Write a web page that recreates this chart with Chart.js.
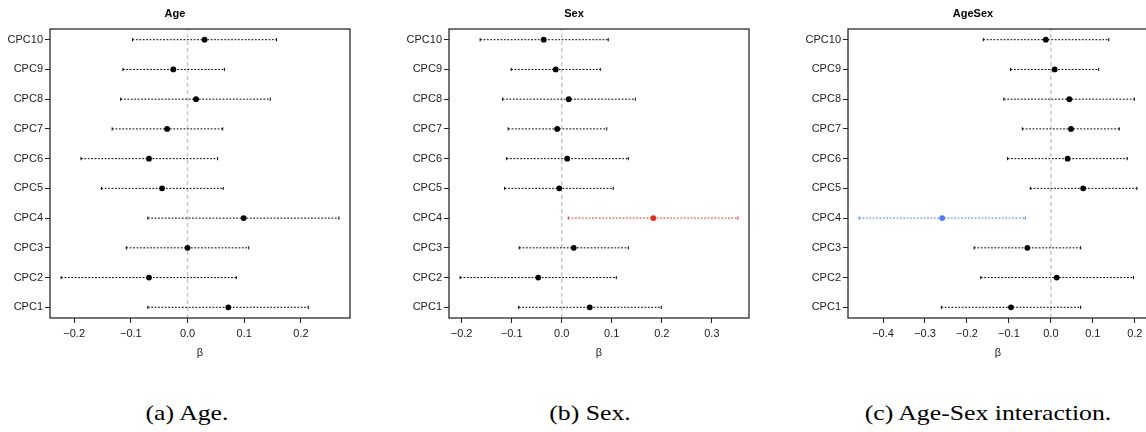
<!DOCTYPE html>
<html>
<head>
<meta charset="utf-8">
<script src="https://cdn.jsdelivr.net/npm/chart.js@4/dist/chart.umd.min.js"></script>
<style>
  html, body { margin: 0; padding: 0; background: #fff; }
  #fig { position: relative; width: 1146px; height: 432px; overflow: hidden; background: #fff; }
  .panel { position: absolute; top: 0; width: 360px; height: 370px; }
  .caption { position: absolute; top: 402px; font-family: "Liberation Serif", serif; font-size: 22px;
             line-height: 1; transform: translateX(-50%) scaleX(1.17); transform-origin: center;
             white-space: nowrap; color: #000; }
</style>
</head>
<body>
<div id="fig">
  <div class="panel" style="left:0px"><canvas id="cAge" width="360" height="370"></canvas></div>
  <div class="panel" style="left:399px"><canvas id="cSex" width="360" height="370"></canvas></div>
  <div class="panel" style="left:798px"><canvas id="cAgeSex" width="360" height="370"></canvas></div>
  <div class="caption" style="left:187px">(a) Age.</div>
  <div class="caption" style="left:590px">(b) Sex.</div>
  <div class="caption" style="left:988px">(c) Age-Sex interaction.</div>
</div>
<script>
// Components, bottom to top (CPC1 .. CPC10)
const categories = ['CPC1', 'CPC2', 'CPC3', 'CPC4', 'CPC5', 'CPC6', 'CPC7', 'CPC8', 'CPC9', 'CPC10'];

// Age effect: estimate and interval bounds
const ageEst = [0.072, -0.068, 0.000, 0.099, -0.045, -0.068, -0.036, 0.015, -0.025, 0.030];
const ageLo  = [-0.070, -0.223, -0.108, -0.070, -0.152, -0.188, -0.133, -0.118, -0.114, -0.097];
const ageHi  = [0.213, 0.086, 0.108, 0.267, 0.063, 0.053, 0.062, 0.146, 0.065, 0.157];

// Sex effect
const sexEst = [0.056, -0.047, 0.024, 0.183, -0.005, 0.011, -0.009, 0.014, -0.012, -0.036];
const sexLo  = [-0.086, -0.203, -0.085, 0.013, -0.114, -0.110, -0.107, -0.118, -0.101, -0.163];
const sexHi  = [0.199, 0.109, 0.133, 0.352, 0.103, 0.133, 0.090, 0.147, 0.077, 0.093];

// Age-Sex interaction
const ageSexEst = [-0.095, 0.014, -0.056, -0.259, 0.077, 0.040, 0.048, 0.044, 0.009, -0.012];
const ageSexLo  = [-0.261, -0.167, -0.183, -0.457, -0.049, -0.103, -0.068, -0.112, -0.096, -0.161];
const ageSexHi  = [0.071, 0.197, 0.071, -0.061, 0.205, 0.182, 0.163, 0.199, 0.114, 0.138];

// Significant components are coloured
const BLACK = '#000000';
const RED = 'rgb(222,45,38)';
const BLUE = 'rgb(77,125,238)';
const ageColors    = [BLACK, BLACK, BLACK, BLACK, BLACK, BLACK, BLACK, BLACK, BLACK, BLACK];
const sexColors    = [BLACK, BLACK, BLACK, RED,   BLACK, BLACK, BLACK, BLACK, BLACK, BLACK];
const ageSexColors = [BLACK, BLACK, BLACK, BLUE,  BLACK, BLACK, BLACK, BLACK, BLACK, BLACK];

// x-axis ticks
const ageTicks = [-0.2, -0.1, 0.0, 0.1, 0.2];
const ageTickLabels = ['\u22120.2', '\u22120.1', '0.0', '0.1', '0.2'];
const sexTicks = [-0.2, -0.1, 0.0, 0.1, 0.2, 0.3];
const sexTickLabels = ['\u22120.2', '\u22120.1', '0.0', '0.1', '0.2', '0.3'];
const ageSexTicks = [-0.4, -0.3, -0.2, -0.1, 0.0, 0.1, 0.2];
const ageSexTickLabels = ['\u22120.4', '\u22120.3', '\u22120.2', '\u22120.1', '0.0', '0.1', '0.2'];

const FONT = '"Liberation Sans", Arial, Helvetica, sans-serif';

// Frame around the plotting region
const boxPlugin = {
  id: 'plotBox',
  afterDraw(chart) {
    const a = chart.chartArea, ctx = chart.ctx;
    ctx.save();
    ctx.strokeStyle = '#2a2a2a';
    ctx.lineWidth = 1.3;
    ctx.strokeRect(a.left, a.top, a.right - a.left, a.bottom - a.top);
    ctx.restore();
  }
};

// Axis limits padded by 4% of the data range on each side
function padRange(lo, hi) {
  const mn = Math.min(...lo), mx = Math.max(...hi), d = mx - mn;
  return [mn - 0.04 * d, mx + 0.04 * d];
}

function forestPlot(id, title, est, lo, hi, colors, ticks, tickLabels) {
  const [xMin, xMax] = padRange(lo, hi);
  const n = categories.length;
  const yMin = 1 - 0.04 * (n - 1), yMax = n + 0.04 * (n - 1);

  const datasets = [];
  // reference line at zero
  datasets.push({
    type: 'line', order: 3,
    data: [{ x: 0, y: yMin }, { x: 0, y: yMax }],
    borderColor: '#c8c8c8', borderWidth: 1.5, borderDash: [4, 3],
    pointRadius: 0
  });
  // one dotted interval per component
  categories.forEach((c, i) => {
    datasets.push({
      type: 'line', order: 2,
      data: [{ x: lo[i], y: i + 1 }, { x: hi[i], y: i + 1 }],
      borderColor: colors[i], borderWidth: 1, borderDash: [1.8, 1.6],
      pointStyle: 'line', rotation: 90, pointRadius: 1.6, pointBorderWidth: 1,
      pointBorderColor: colors[i]
    });
  });
  // point estimates
  datasets.push({
    type: 'scatter', order: 1,
    data: est.map((v, i) => ({ x: v, y: i + 1 })),
    pointRadius: 2.9, pointBorderWidth: 0,
    pointBackgroundColor: colors, borderColor: colors
  });

  return new Chart(document.getElementById(id), {
    data: { datasets },
    plugins: [boxPlugin],
    options: {
      responsive: false,
      animation: false,
      layout: { padding: { left: 0, right: 10, top: 0, bottom: 0 } },
      plugins: {
        legend: { display: false },
        tooltip: { enabled: false },
        title: {
          display: true, text: title, color: '#000',
          font: { family: FONT, size: 11, weight: 'bold', lineHeight: 1.2 },
          padding: { top: 7, bottom: 8.8 }
        }
      },
      scales: {
        x: {
          type: 'linear', min: xMin, max: xMax,
          afterBuildTicks: s => { s.ticks = ticks.map(v => ({ value: v })); },
          afterFit: s => { s.height = 52; },
          ticks: {
            color: '#222', padding: 4, maxRotation: 0, autoSkip: false,
            font: { family: FONT, size: 11 },
            callback: (v, i) => tickLabels[i]
          },
          grid: { drawOnChartArea: false, tickLength: 5, tickColor: '#222', tickWidth: 1 },
          border: { display: false },
          title: {
            display: true, text: '\u03b2', color: '#222',
            font: { family: FONT, size: 11 },
            padding: { top: 4, bottom: 10 }
          }
        },
        y: {
          type: 'linear', min: yMin, max: yMax,
          afterBuildTicks: s => { s.ticks = categories.map((c, i) => ({ value: i + 1 })); },
          afterFit: s => { s.width = 50; },
          ticks: {
            color: '#222', padding: 2, autoSkip: false,
            font: { family: FONT, size: 11 },
            callback: (v, i) => categories[i]
          },
          grid: { drawOnChartArea: false, tickLength: 5, tickColor: '#222', tickWidth: 1 },
          border: { display: false }
        }
      }
    }
  });
}

forestPlot('cAge', 'Age', ageEst, ageLo, ageHi, ageColors, ageTicks, ageTickLabels);
forestPlot('cSex', 'Sex', sexEst, sexLo, sexHi, sexColors, sexTicks, sexTickLabels);
forestPlot('cAgeSex', 'AgeSex', ageSexEst, ageSexLo, ageSexHi, ageSexColors, ageSexTicks, ageSexTickLabels);
</script>
</body>
</html>
